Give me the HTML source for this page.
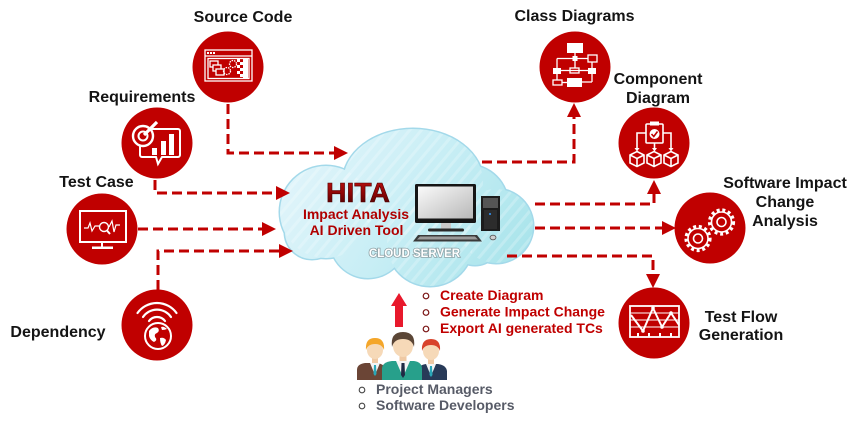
<!DOCTYPE html>
<html><head><meta charset="utf-8">
<style>
html,body{margin:0;padding:0;background:#fff;}
svg{display:block;}
text{font-family:"Liberation Sans",Arial,sans-serif;}
</style></head><body>
<svg width="861" height="422" viewBox="0 0 861 422" xmlns="http://www.w3.org/2000/svg">
<defs>
 <linearGradient id="cg" gradientUnits="userSpaceOnUse" x1="290" y1="135" x2="520" y2="285">
  <stop offset="0" stop-color="#e4f5fb"/>
  <stop offset="0.5" stop-color="#c8eef5"/>
  <stop offset="1" stop-color="#a6e3ea"/>
 </linearGradient>
 <linearGradient id="hita" x1="0" y1="0" x2="0" y2="1">
  <stop offset="0" stop-color="#c41414"/>
  <stop offset="0.55" stop-color="#8a0505"/>
  <stop offset="1" stop-color="#3e0000"/>
 </linearGradient>
 <linearGradient id="scr" x1="0" y1="0" x2="1" y2="1">
  <stop offset="0" stop-color="#fafafa"/>
  <stop offset="1" stop-color="#b8b8b8"/>
 </linearGradient>
 <pattern id="stripes" patternUnits="userSpaceOnUse" width="9" height="9" patternTransform="rotate(40)">
  <rect width="3" height="9" fill="#ffffff" opacity="0.22"/>
 </pattern>
</defs>

<!-- ============ CLOUD ============ -->
<g fill="#a3d9ea" stroke="#a3d9ea" stroke-width="3">
 <ellipse cx="413" cy="182" rx="70" ry="53"/>
 <circle cx="326" cy="212" r="46"/>
 <circle cx="496" cy="226" r="37"/>
 <circle cx="468" cy="205" r="40"/>
 <circle cx="312" cy="232" r="27"/>
 <circle cx="368" cy="240" r="38"/>
 <circle cx="430" cy="243" r="43"/>
 <circle cx="475" cy="240" r="25"/>
 <ellipse cx="410" cy="222" rx="100" ry="38"/>
</g>
<g fill="url(#cg)">
 <ellipse cx="413" cy="182" rx="70" ry="53"/>
 <circle cx="326" cy="212" r="46"/>
 <circle cx="496" cy="226" r="37"/>
 <circle cx="468" cy="205" r="40"/>
 <circle cx="312" cy="232" r="27"/>
 <circle cx="368" cy="240" r="38"/>
 <circle cx="430" cy="243" r="43"/>
 <circle cx="475" cy="240" r="25"/>
 <ellipse cx="410" cy="222" rx="100" ry="38"/>
</g>
<g fill="url(#stripes)">
 <ellipse cx="413" cy="182" rx="70" ry="53"/>
 <circle cx="326" cy="212" r="46"/>
 <circle cx="496" cy="226" r="37"/>
 <circle cx="430" cy="243" r="43"/>
</g>

<!-- cloud texts -->
<text x="358" y="202" font-size="28" font-weight="bold" fill="url(#hita)" stroke="#4a0000" stroke-width="0.6" text-anchor="middle" textLength="64" lengthAdjust="spacingAndGlyphs">HITA</text>
<text x="356" y="219" font-size="14" font-weight="bold" fill="#b00000" text-anchor="middle">Impact Analysis</text>
<text x="356.5" y="235" font-size="14" font-weight="bold" fill="#b00000" text-anchor="middle">AI Driven Tool</text>
<text x="414.5" y="257" font-size="11.5" font-weight="bold" fill="#ffffff" stroke="#8fa3a8" stroke-width="1.6" paint-order="stroke" text-anchor="middle">CLOUD SERVER</text>

<!-- computer -->
<rect x="415" y="184" width="61" height="39" rx="1.5" fill="#151515"/>
<rect x="418" y="186.5" width="55" height="32" fill="url(#scr)"/>
<rect x="441" y="223" width="10" height="6" fill="#c9c9c9"/>
<rect x="428" y="228.5" width="36" height="3" rx="1.5" fill="#2a2a2a"/>
<polygon points="413,241.5 418,235 477,235 482,241.5" fill="#3a3a3a"/>
<polygon points="417,239.5 420,236.5 475,236.5 478,239.5" fill="#9a9a9a"/>
<rect x="481" y="196" width="19" height="35" fill="#1c1c1c"/>
<rect x="483" y="198" width="15" height="10" fill="#555"/>
<rect x="484" y="210" width="13" height="19" fill="#2c2c2c"/>
<circle cx="490" cy="214" r="1" fill="#39f"/>
<ellipse cx="493" cy="237.5" rx="3" ry="2.3" fill="#cfcfcf" stroke="#555" stroke-width="0.8"/>

<!-- ============ CONNECTORS ============ -->
<g fill="none" stroke="#c00000" stroke-width="3" stroke-dasharray="10 5">
 <path d="M228,104 V153 H334"/>
 <path d="M155,180 V193 H276"/>
 <path d="M138,229 H262"/>
 <path d="M158,290 V251 H279"/>
 <path d="M482,162 H574 V117"/>
 <path d="M535,204 H654 V194"/>
 <path d="M535,228 H662"/>
 <path d="M507,256 H653 V274"/>
</g>
<g fill="#c00000">
 <polygon points="334,146 348,153 334,160"/>
 <polygon points="276,186 290,193 276,200"/>
 <polygon points="262,222 276,229 262,236"/>
 <polygon points="279,244 293,251 279,258"/>
 <polygon points="567,117 574,103 581,117"/>
 <polygon points="647,194 654,180 661,194"/>
 <polygon points="662,221 676,228 662,235"/>
 <polygon points="646,274 653,288 660,274"/>
</g>

<!-- ============ CIRCLES ============ -->
<g fill="#c00000">
 <circle cx="228" cy="67" r="35.5"/>
 <circle cx="157" cy="143" r="35.5"/>
 <circle cx="102" cy="229" r="35.5"/>
 <circle cx="157" cy="325" r="35.5"/>
 <circle cx="575" cy="67" r="35.5"/>
 <circle cx="654" cy="143" r="35.5"/>
 <circle cx="710" cy="228" r="35.5"/>
 <circle cx="654" cy="323" r="35.5"/>
</g>

<!-- Source code icon -->
<g stroke="#fff" fill="none" stroke-width="1.3">
 <rect x="205" y="50" width="47" height="31"/>
 <line x1="205" y1="56" x2="252" y2="56"/>
 <rect x="208" y="58.5" width="41" height="20"/>
 <rect x="210" y="61" width="8" height="6" fill="#c00000"/>
 <rect x="213" y="65" width="8" height="6" fill="#c00000"/>
 <rect x="216" y="69" width="8" height="6" fill="#c00000"/>
 <circle cx="227" cy="71" r="3.5" stroke-dasharray="1.5 1"/>
 <circle cx="233" cy="64" r="3.5" stroke-dasharray="1.5 1"/>
</g>
<g fill="#fff">
 <rect x="207" y="52" width="2" height="2"/><rect x="210" y="52" width="2" height="2"/><rect x="213" y="52" width="2" height="2"/>
 <rect x="237" y="59" width="3" height="3"/><rect x="240" y="62" width="3" height="3"/><rect x="237" y="65" width="3" height="3"/><rect x="240" y="68" width="3" height="3"/><rect x="237" y="71" width="3" height="3"/><rect x="240" y="74" width="3" height="3"/>
 <rect x="243" y="59" width="5" height="19"/>
</g>

<!-- Requirements icon -->
<g stroke="#fff" fill="none" stroke-width="2">
 <path d="M142,129 H178 a2,2 0 0 1 2,2 V155 a2,2 0 0 1 -2,2 H162 L158,164 L156,157 H142 a2,2 0 0 1 -2,-2 V140"/>
</g>
<g fill="#fff">
 <rect x="152" y="148" width="5" height="7"/>
 <rect x="161" y="141" width="5" height="14"/>
 <rect x="169" y="134" width="5" height="21"/>
</g>
<circle cx="143" cy="136" r="10" fill="#c00000" stroke="#fff" stroke-width="2.4"/>
<circle cx="143" cy="136" r="4.5" fill="none" stroke="#fff" stroke-width="2"/>
<line x1="144" y1="135" x2="157" y2="122" stroke="#fff" stroke-width="3.2"/>

<!-- Test case icon -->
<g stroke="#fff" fill="none">
 <rect x="80" y="211" width="46" height="31" stroke-width="2"/>
 <line x1="102" y1="242" x2="102" y2="247" stroke-width="2"/>
 <polyline points="84,228 88,228 90,223 92,231 95,226 99,226" stroke-width="1.2"/>
 <polyline points="109,227 112,221 114,232 116,225 120,225" stroke-width="1.2"/>
 <circle cx="104" cy="227" r="4.5" stroke-width="1.4"/>
 <line x1="107" y1="230.5" x2="110" y2="234" stroke-width="2"/>
</g>
<rect x="92" y="246.5" width="21" height="2.5" fill="#fff"/>

<!-- Dependency icon -->
<g stroke="#fff" fill="none" stroke-width="2.2" stroke-linecap="round">
 <path d="M137.5,313 A24,24 0 0 1 176.5,313"/>
 <path d="M143,317 A17,17 0 0 1 171,317"/>
 <path d="M149,321 A10,10 0 0 1 165,321"/>
</g>
<circle cx="158" cy="336" r="13" fill="#c00000" stroke="#fff" stroke-width="2"/>
<path d="M149,331 q4,-5 9,-3 q2,3 -1,5 q-3,1 -2,4 q3,3 -1,5 q-4,-2 -5,-6 z" fill="#fff"/>
<path d="M160,338 q4,-1 6,2 q-1,5 -4,6 q-2,-3 -2,-8 z" fill="#fff"/>
<path d="M161,327 q3,-1 6,2 q-2,1 -5,1 z" fill="#fff"/>

<!-- Class diagrams icon -->
<g fill="#fff">
 <rect x="567" y="43" width="16" height="10"/>
 <rect x="572.5" y="56" width="5" height="5"/>
 <rect x="553" y="68" width="8" height="6"/>
 <rect x="588" y="68" width="8" height="6"/>
 <rect x="567" y="78" width="15" height="9"/>
</g>
<g stroke="#fff" fill="none" stroke-width="1.3">
 <line x1="575" y1="53" x2="575" y2="58"/>
 <line x1="557" y1="58.5" x2="588" y2="58.5"/>
 <line x1="557" y1="58.5" x2="557" y2="80"/>
 <rect x="588" y="55" width="9" height="7"/>
 <rect x="570" y="68" width="9" height="5"/>
 <line x1="561" y1="70.5" x2="588" y2="70.5"/>
 <line x1="575" y1="61" x2="575" y2="68"/>
 <line x1="592" y1="62" x2="592" y2="82"/>
 <line x1="582" y1="82" x2="592" y2="82"/>
 <rect x="553" y="80" width="9" height="5"/>
 <line x1="562" y1="82.5" x2="567" y2="82.5"/>
</g>

<!-- Component icon -->
<g stroke="#fff" fill="none" stroke-width="1.6">
 <rect x="646" y="124" width="17" height="19" rx="1"/>
 <line x1="654.5" y1="143" x2="654.5" y2="149"/>
 <path d="M646,133 H637 V149"/>
 <path d="M663,133 H671 V149"/>
 <path d="M630,155 l7,-3.5 l7,3.5 v8 l-7,3.5 l-7,-3.5 z M630,155 l7,3.5 l7,-3.5 M637,158.5 v8"/>
 <path d="M647,155 l7,-3.5 l7,3.5 v8 l-7,3.5 l-7,-3.5 z M647,155 l7,3.5 l7,-3.5 M654,158.5 v8"/>
 <path d="M664,155 l7,-3.5 l7,3.5 v8 l-7,3.5 l-7,-3.5 z M664,155 l7,3.5 l7,-3.5 M671,158.5 v8"/>
</g>
<rect x="650" y="121.5" width="9" height="4" fill="#fff"/>
<circle cx="654.5" cy="134" r="5" fill="#fff"/>
<polyline points="651.5,134 653.8,136.5 657.5,131.5" fill="none" stroke="#c00000" stroke-width="1.6"/>
<g fill="#fff">
 <polygon points="634.5,148 639.5,148 637,151.5"/>
 <polygon points="652,148 657,148 654.5,151.5"/>
 <polygon points="668.5,148 673.5,148 671,151.5"/>
</g>

<!-- Gears icon -->
<g fill="none" stroke="#fff">
 <circle cx="721.5" cy="222" r="10" stroke-width="1.6"/>
 <circle cx="721.5" cy="222" r="12" stroke-width="3.2" stroke-dasharray="3 2.7"/>
 <circle cx="721.5" cy="222" r="4.5" stroke-width="1.6"/>
 <circle cx="698" cy="238.5" r="10" stroke-width="1.6"/>
 <circle cx="698" cy="238.5" r="12" stroke-width="3.2" stroke-dasharray="3 2.7"/>
 <circle cx="698" cy="238.5" r="4.5" stroke-width="1.6"/>
</g>

<!-- Test flow icon -->
<g stroke="#fff" fill="none">
 <rect x="630" y="306" width="49" height="31" stroke-width="1.8"/>
 <line x1="630" y1="313" x2="679" y2="313" stroke-width="1"/>
 <line x1="630" y1="320" x2="679" y2="320" stroke-width="1"/>
 <line x1="630" y1="327" x2="679" y2="327" stroke-width="1"/>
 <polyline points="631,315 643,331 653,308 662,327 671,313 679,325" stroke-width="2"/>
</g>
<g fill="#fff">
 <circle cx="643" cy="331" r="1.8"/><circle cx="653" cy="308" r="1.8"/><circle cx="662" cy="327" r="1.8"/><circle cx="671" cy="313" r="1.8"/>
 <rect x="637" y="333" width="2" height="4"/><rect x="648" y="333" width="2" height="4"/><rect x="659" y="333" width="2" height="4"/><rect x="670" y="333" width="2" height="4"/>
</g>

<!-- ============ LABELS ============ -->
<g font-size="16" font-weight="bold" fill="#141414" text-anchor="middle">
 <text x="243" y="22">Source Code</text>
 <text x="142" y="102">Requirements</text>
 <text x="96.5" y="187">Test Case</text>
 <text x="58" y="337">Dependency</text>
 <text x="574.5" y="21">Class Diagrams</text>
 <text x="658" y="84">Component</text>
 <text x="658" y="103">Diagram</text>
 <text x="785" y="188">Software Impact</text>
 <text x="785" y="207">Change</text>
 <text x="785" y="226">Analysis</text>
 <text x="741" y="322">Test Flow</text>
 <text x="741" y="340">Generation</text>
</g>

<!-- ============ USERS ============ -->
<rect x="395" y="305" width="8" height="22" fill="#e8192c"/>
<polygon points="391,306 399,293 407,306" fill="#e8192c"/>

<g fill="none" stroke="#7a1414" stroke-width="1.2">
 <circle cx="426" cy="296" r="2.8"/>
 <circle cx="426" cy="312.5" r="2.8"/>
 <circle cx="426" cy="329" r="2.8"/>
</g>
<g font-size="14" font-weight="bold" fill="#c00000">
 <text x="440" y="300">Create Diagram</text>
 <text x="440" y="316.5">Generate Impact Change</text>
 <text x="440" y="333">Export AI generated TCs</text>
</g>

<!-- left person -->
<path d="M357,380 V370 q0,-6 8,-7 h12 q8,1 8,7 V380 z" fill="#6b4536"/>
<polygon points="370,363 375,375 380,363" fill="#f4f4f4"/>
<polygon points="374,365 376,365 376.5,374 375,376 373.5,374" fill="#2aa7b8"/>
<rect x="372" y="357" width="6" height="6" fill="#efc9a4"/>
<ellipse cx="375" cy="350" rx="8" ry="9" fill="#f6d9b8"/>
<path d="M366,350 q-1,-12 9,-12 q10,0 9,12 q-2,-6 -9,-6 q-7,0 -9,6 z" fill="#f4a62a"/>
<!-- right person -->
<path d="M418,380 V371 q0,-6 8,-7 h12 q8,1 9,7 V380 z" fill="#283a58"/>
<polygon points="426,364 431,376 436,364" fill="#f4f4f4"/>
<polygon points="430,366 432,366 432.5,375 431,377 429.5,375" fill="#2aa7b8"/>
<rect x="428" y="358" width="6" height="6" fill="#efc9a4"/>
<ellipse cx="431" cy="351" rx="8" ry="9" fill="#f6d9b8"/>
<path d="M422,351 q-1,-12 9,-12 q10,0 9,12 q-2,-6 -9,-6 q-7,0 -9,6 z" fill="#d8432c"/>
<!-- center person -->
<path d="M382,380 V369 q0,-7 10,-8 h22 q8,1 8,8 V380 z" fill="#27a08b"/>
<polygon points="396,361 403,377 410,361" fill="#f4f4f4"/>
<polygon points="401.5,363 404.5,363 405,375 403,378 401,375" fill="#1f2a44"/>
<rect x="399.5" y="354" width="7" height="7" fill="#efc9a4"/>
<ellipse cx="403" cy="346" rx="10" ry="11" fill="#f6d9b8"/>
<path d="M392,347 q-2,-15 11,-15 q13,0 11,15 q-2,-8 -11,-8 q-9,0 -11,8 z" fill="#5b4636"/>

<g fill="none" stroke="#444" stroke-width="1.1">
 <circle cx="362" cy="390" r="2.8"/>
 <circle cx="362" cy="406" r="2.8"/>
</g>
<g font-size="14" font-weight="bold" fill="#575b67">
 <text x="376" y="394">Project Managers</text>
 <text x="376" y="410">Software Developers</text>
</g>
</svg>
</body></html>
